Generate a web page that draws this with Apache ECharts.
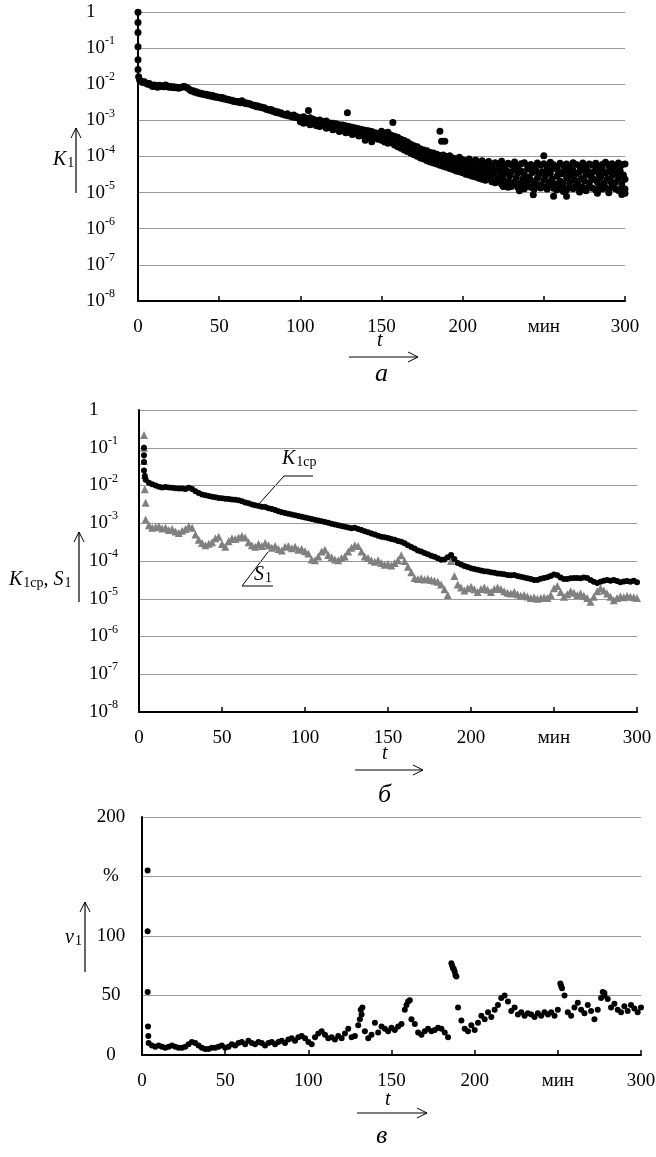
<!DOCTYPE html>
<html>
<head>
<meta charset="utf-8">
<title>K1, S1, v1</title>
<script src="https://cdn.jsdelivr.net/npm/echarts@6/dist/echarts.min.js"></script>
<style>
html, body { margin: 0; padding: 0; background: #fff; }
#chart { width: 656px; height: 1157px; }
</style>
</head>
<body>
<div id="chart"></div>
<script>
// x ticks of all three panels (the 250 tick carries the unit "мин")
const xTicks = [0, 50, 100, 150, 200, 250, 300]

// ---- panel а: K1 (values are log10 K1) ----
// burst at the very start, [t, log10 K1]
const k1Start = [[0, -0.01], [0, -0.29], [0, -0.57], [0, -0.96], [0, -1.32], [0, -1.59], [0.4, -1.79]]
// one point per minute, t = 1..300
const k1Main = [
  -1.88, -1.92, -1.95, -1.93, -1.97, -2.00, -1.98, -2.03, -2.06, -2.02,
  -2.05, -2.08, -2.03, -2.06, -2.04, -2.07, -2.02, -2.05, -2.08, -2.06,
  -2.09, -2.07, -2.10, -2.08, -2.11, -2.09, -2.08, -2.06, -2.07, -2.09,
  -2.12, -2.16, -2.19, -2.18, -2.22, -2.21, -2.25, -2.24, -2.27, -2.26,
  -2.29, -2.28, -2.31, -2.30, -2.33, -2.31, -2.35, -2.34, -2.37, -2.36,
  -2.39, -2.37, -2.41, -2.40, -2.43, -2.42, -2.45, -2.44, -2.48, -2.47,
  -2.49, -2.48, -2.51, -2.46, -2.50, -2.53, -2.52, -2.55, -2.54, -2.57,
  -2.59, -2.58, -2.62, -2.60, -2.64, -2.63, -2.66, -2.65, -2.69, -2.70,
  -2.72, -2.70, -2.75, -2.74, -2.78, -2.76, -2.80, -2.79, -2.83, -2.84,
  -2.86, -2.82, -2.88, -2.87, -2.91, -2.85, -2.92, -2.90, -2.94, -2.93,
  -2.96, -2.90, -2.98, -2.95, -2.99, -2.93, -3.02, -2.97, -3.03, -3.00,
  -3.05, -2.99, -3.06, -3.03, -3.08, -3.02, -3.10, -3.07, -3.12, -3.08,
  -3.14, -3.09, -3.16, -3.12, -3.18, -3.13, -3.20, -3.15, -3.22, -3.17,
  -3.24, -3.19, -3.26, -3.21, -3.28, -3.23, -3.30, -3.25, -3.32, -3.27,
  -3.35, -3.29, -3.37, -3.31, -3.39, -3.34, -3.42, -3.36, -3.44, -3.39,
  -3.47, -3.40, -3.53, -3.45, -3.58, -3.49, -3.55, -3.46, -3.62, -3.52,
  -3.66, -3.57, -3.70, -3.62, -3.75, -3.64, -3.78, -3.69, -3.82, -3.72,
  -3.85, -3.76, -3.90, -3.80, -3.93, -3.84, -3.97, -3.87, -4.00, -3.90,
  -4.02, -3.93, -4.06, -3.97, -4.10, -4.00, -4.13, -4.03, -4.16, -4.06,
  -4.19, -4.08, -4.22, -4.11, -4.25, -4.13, -4.28, -4.15, -4.30, -4.17,
  -4.33, -4.19, -4.37, -4.24, -4.41, -4.27, -4.45, -4.30, -4.36, -4.48,
  -4.31, -4.52, -4.38, -4.29, -4.55, -4.42, -4.34, -4.58, -4.45, -4.37,
  -4.61, -4.40, -4.50, -4.33, -4.64, -4.47, -4.39, -4.69, -4.53, -4.42,
  -4.72, -4.36, -4.58, -4.46, -4.75, -4.40, -4.62, -4.51, -4.70, -4.35,
  -4.57, -4.66, -4.44, -4.73, -4.38, -4.60, -4.49, -4.78, -4.42, -4.65,
  -4.53, -4.37, -4.71, -4.46, -4.62, -4.33, -4.76, -4.55, -4.41, -4.68,
  -4.48, -4.74, -4.36, -4.59, -4.44, -4.70, -4.52, -4.39, -4.65, -4.47,
  -4.77, -4.42, -4.61, -4.35, -4.68, -4.50, -4.40, -4.73, -4.56, -4.44,
  -4.64, -4.38, -4.71, -4.49, -4.58, -4.34, -4.75, -4.46, -4.62, -4.41,
  -4.69, -4.53, -4.37, -4.72, -4.48, -4.60, -4.39, -4.76, -4.51, -4.63
]
// lower side of the band, t = 100..148 every 2 min
const k1Side = [
  -3.04, -3.08, -3.06, -3.12, -3.10, -3.15, -3.17, -3.14, -3.22, -3.20,
  -3.26, -3.24, -3.31, -3.28, -3.34, -3.33, -3.39, -3.36, -3.43, -3.41,
  -3.47, -3.45, -3.50, -3.49, -3.52
]
// upper and lower edge of the widening band, t = 150..300 every 2 min
const k1Upper = [
  -3.30, -3.35, -3.33, -3.41, -3.44, -3.47, -3.52, -3.56, -3.60, -3.66,
  -3.70, -3.73, -3.79, -3.82, -3.84, -3.89, -3.90, -3.94, -3.97, -3.96,
  -4.00, -3.98, -4.04, -4.06, -4.02, -4.09, -4.12, -4.07, -4.14, -4.10,
  -4.16, -4.12, -4.20, -4.14, -4.24, -4.17, -4.21, -4.13, -4.26, -4.19,
  -4.23, -4.15, -4.28, -4.20, -4.17, -4.25, -4.22, -4.30, -4.18, -4.24,
  -4.20, -4.27, -4.16, -4.23, -4.29, -4.19, -4.25, -4.21, -4.28, -4.17,
  -4.22, -4.26, -4.18, -4.30, -4.21, -4.24, -4.19, -4.27, -4.22, -4.16,
  -4.25, -4.20, -4.28, -4.18, -4.23, -4.21
]
const k1Lower = [
  -3.55, -3.58, -3.63, -3.61, -3.68, -3.73, -3.77, -3.82, -3.86, -3.91,
  -3.95, -3.99, -4.04, -4.07, -4.12, -4.15, -4.18, -4.21, -4.24, -4.27,
  -4.30, -4.33, -4.36, -4.40, -4.42, -4.45, -4.49, -4.51, -4.55, -4.57,
  -4.60, -4.63, -4.66, -4.62, -4.70, -4.73, -4.68, -4.77, -4.74, -4.80,
  -4.83, -4.76, -4.86, -4.80, -4.89, -4.82, -4.85, -4.91, -4.79, -4.87,
  -4.84, -4.90, -4.78, -4.88, -4.93, -4.81, -4.86, -4.92, -4.83, -4.89,
  -4.80, -4.91, -4.85, -4.95, -4.82, -4.88, -4.93, -4.84, -4.90, -4.86,
  -4.92, -4.83, -4.89, -4.94, -4.85, -4.90
]
// stray points, [t, log10 K1]
const k1Outliers = [
  [105, -2.73], [129, -2.79], [140, -3.55], [144, -3.59], [152, -3.60], [157, -3.06],
  [186, -3.30], [187, -3.58], [189, -3.58], [225, -4.83], [228, -4.85], [235, -4.95],
  [243.5, -5.06], [250, -3.98], [256, -5.10], [262, -4.97], [264, -5.10], [272, -4.98],
  [276, -4.92], [283, -5.02], [290, -5.00], [298, -5.05], [300, -5.02]
]

// ---- panel б: K1ср and S1 (log10), t = 4..300 every 2 min ----
const k1cpStart = [[3, -1.00], [3, -1.20], [3, -1.38], [3, -1.60], [3.5, -1.75]]
const k1cp = [
  -1.85, -1.93, -1.97, -2.00, -2.03, -2.05, -2.04, -2.05, -2.06, -2.07,
  -2.08, -2.08, -2.09, -2.06, -2.09, -2.15, -2.20, -2.24, -2.26, -2.28,
  -2.30, -2.31, -2.33, -2.34, -2.35, -2.36, -2.37, -2.38, -2.39, -2.42,
  -2.45, -2.47, -2.50, -2.52, -2.54, -2.56, -2.57, -2.60, -2.62, -2.65,
  -2.68, -2.71, -2.73, -2.75, -2.77, -2.79, -2.81, -2.83, -2.85, -2.87,
  -2.89, -2.91, -2.93, -2.95, -2.97, -2.99, -3.01, -3.03, -3.05, -3.07,
  -3.09, -3.11, -3.13, -3.12, -3.15, -3.18, -3.21, -3.24, -3.27, -3.30,
  -3.33, -3.36, -3.37, -3.39, -3.42, -3.44, -3.47, -3.49, -3.53, -3.58,
  -3.63, -3.67, -3.72, -3.75, -3.79, -3.82, -3.86, -3.89, -3.93, -3.97,
  -3.96, -3.90, -3.84, -3.95, -4.05, -4.09, -4.13, -4.16, -4.19, -4.21,
  -4.23, -4.25, -4.27, -4.28, -4.30, -4.31, -4.33, -4.34, -4.35, -4.37,
  -4.38, -4.37, -4.40, -4.42, -4.44, -4.46, -4.48, -4.50, -4.50, -4.47,
  -4.45, -4.43, -4.40, -4.36, -4.38, -4.44, -4.48, -4.48, -4.46, -4.45,
  -4.45, -4.46, -4.44, -4.45, -4.50, -4.55, -4.58, -4.55, -4.52, -4.50,
  -4.52, -4.50, -4.53, -4.56, -4.54, -4.53, -4.55, -4.52, -4.56
]
const s1Start = [[3, -0.66], [3, -1.00], [3, -1.35], [3.5, -1.72], [3.5, -2.10], [4, -2.46]]
const s1 = [
  -2.90, -3.05, -3.12, -3.10, -3.08, -3.14, -3.12, -3.18, -3.15, -3.22,
  -3.26, -3.20, -3.15, -3.08, -3.12, -3.30, -3.44, -3.52, -3.58, -3.54,
  -3.50, -3.40, -3.36, -3.55, -3.62, -3.48, -3.40, -3.42, -3.38, -3.34,
  -3.38, -3.50, -3.58, -3.62, -3.55, -3.60, -3.52, -3.58, -3.65, -3.60,
  -3.68, -3.72, -3.62, -3.60, -3.66, -3.62, -3.70, -3.68, -3.74, -3.80,
  -3.96, -3.98, -3.88, -3.75, -3.70, -3.84, -3.90, -3.96, -3.98, -3.92,
  -3.88, -3.75, -3.65, -3.58, -3.60, -3.75, -3.88, -3.92, -3.98, -4.02,
  -3.98, -4.05, -4.10, -4.08, -4.12, -4.05, -3.98, -3.85, -4.00, -4.15,
  -4.30, -4.45, -4.48, -4.46, -4.49, -4.47, -4.50, -4.52, -4.55, -4.62,
  -4.75, -4.90, -4.00, -4.40, -4.62, -4.70, -4.78, -4.72, -4.68, -4.75,
  -4.82, -4.74, -4.70, -4.76, -4.82, -4.74, -4.70, -4.74, -4.80, -4.84,
  -4.86, -4.82, -4.88, -4.92, -4.90, -4.94, -4.98, -4.96, -5.00, -4.98,
  -4.96, -4.98, -4.90, -4.72, -4.66, -4.82, -4.95, -4.88, -4.80, -4.84,
  -4.90, -4.86, -4.92, -4.98, -5.08, -4.95, -4.80, -4.72, -4.78, -4.86,
  -4.95, -5.04, -4.98, -4.94, -4.96, -4.93, -4.95, -4.96, -4.98
]

// ---- panel в: v1, %, t = 4..300 every 2 min ----
const v1Start = [[3.4, 155], [3.4, 104], [3.4, 53], [3.6, 24], [3.8, 16]]
const v1 = [
  10, 8, 7, 8, 7, 6, 7, 8, 7, 6,
  6, 7, 9, 11, 10, 8, 6, 5, 5, 6,
  6, 7, 8, 6, 7, 9, 8, 10, 11, 9,
  12, 10, 9, 11, 10, 8, 10, 11, 9, 11,
  12, 10, 13, 14, 12, 15, 16, 14, 11, 9,
  15, 18, 20, 17, 14, 15, 13, 16, 14, 18,
  22, 15, 16, 25, 34, 20, 14, 17, 27, 19,
  24, 22, 20, 23, 21, 24, 26, 38, 45, 30,
  26, 19, 17, 20, 22, 20, 21, 23, 22, 19,
  15, 77, 70, 40, 29, 22, 20, 25, 21, 27,
  33, 30, 36, 32, 38, 42, 48, 50, 45, 37,
  40, 34, 36, 33, 35, 34, 32, 35, 33, 36,
  34, 36, 33, 38, 58, 50, 36, 33, 40, 44,
  38, 35, 42, 37, 30, 38, 48, 52, 47, 40,
  43, 38, 36, 41, 37, 42, 39, 36, 40
]
const v1Extra = [
  [131, 30], [131.5, 38], [132.5, 40], [159, 42], [161, 46], [186.5, 75], [187, 73],
  [187.5, 72], [188.5, 67], [189, 66], [251.5, 60], [252.5, 56], [277, 53], [278, 50]
]

const FONT = 'Liberation Serif'

// [t0 + step*i, value] for values taken at a regular step
function pairs(t0, step, arr) {
  return arr.map((v, i) => [t0 + step * i, v])
}
function fromLog(list) {
  return list.map(p => [p[0], Math.pow(10, p[1])])
}

const myChart = echarts.init(document.getElementById('chart'), null, { renderer: 'canvas' })

const grids = [
  { left: 138, top: 12, width: 487, height: 289 },
  { left: 139, top: 410, width: 498, height: 302 },
  { left: 142, top: 817, width: 499, height: 238 }
]

function xAxisFor(i) {
  return {
    gridIndex: i,
    type: 'value',
    min: 0,
    max: 300,
    interval: 50,
    axisLine: { lineStyle: { color: '#000', width: 2 } },
    axisTick: { inside: true, length: 5, lineStyle: { color: '#000', width: 1.5 } },
    splitLine: { show: false },
    axisLabel: {
      margin: 17,
      color: '#000',
      fontFamily: FONT,
      fontSize: 19,
      formatter: v => (v === 250 ? 'мин' : String(v))
    }
  }
}

const supRich = {
  b: { fontFamily: FONT, fontSize: 19, color: '#000', lineHeight: 26 },
  s: { fontFamily: FONT, fontSize: 12, color: '#000', lineHeight: 12, verticalAlign: 'top' }
}

function logYAxis(i, margin) {
  return {
    gridIndex: i,
    type: 'log',
    logBase: 10,
    min: 1e-8,
    max: 1,
    axisLine: { show: true, lineStyle: { color: '#000', width: 2 } },
    axisTick: { show: false },
    splitLine: { lineStyle: { color: '#9a9a9a', width: 1.2 } },
    axisLabel: {
      align: 'left',
      margin,
      formatter: v => {
        const e = Math.round(Math.log10(v))
        return e === 0 ? '{b|1}' : '{b|10}{s|' + e + '}'
      },
      rich: supRich
    }
  }
}

const sub = {
  i: { fontFamily: FONT, fontSize: 20, fontStyle: 'italic', color: '#000' },
  n: { fontFamily: FONT, fontSize: 20, color: '#000' },
  d: { fontFamily: FONT, fontSize: 14, color: '#000', verticalAlign: 'bottom', padding: [0, 0, 0, 1] }
}

function label(left, top, text, size) {
  return {
    type: 'text',
    left,
    top,
    style: size
      ? { text, fontFamily: FONT, fontSize: size, fontStyle: 'italic', fill: '#000' }
      : { text, rich: sub, fill: '#000' }
  }
}
function vArrow(x, yBottom, yTop) {
  return [
    { type: 'line', shape: { x1: x, y1: yBottom, x2: x, y2: yTop }, style: { stroke: '#000', lineWidth: 1.2 } },
    { type: 'polyline', shape: { points: [[x - 5, yTop + 10], [x, yTop], [x + 5, yTop + 10]] }, style: { stroke: '#000', fill: null, lineWidth: 1 } }
  ]
}
function hArrow(x1, x2, y) {
  return [
    { type: 'line', shape: { x1, y1: y, x2, y2: y }, style: { stroke: '#000', lineWidth: 1.2 } },
    { type: 'polyline', shape: { points: [[x2 - 10, y - 5], [x2, y], [x2 - 10, y + 5]] }, style: { stroke: '#000', fill: null, lineWidth: 1 } }
  ]
}
function seg(x1, y1, x2, y2) {
  return { type: 'line', shape: { x1, y1, x2, y2 }, style: { stroke: '#000', lineWidth: 1 } }
}

const graphic = [
  // panel а
  label(53, 150, '{i|K}{d|1}'),
  ...vArrow(76, 193, 128),
  label(377, 331, 't', 20),
  ...hArrow(349, 418, 357),
  label(375, 361, 'а', 26),
  // panel б
  label(9, 570, '{i|K}{d|1ср}{n|, }{i|S}{d|1}'),
  ...vArrow(79, 602, 532),
  label(282, 449, '{i|K}{d|1ср}'),
  seg(284, 476, 313, 476),
  seg(284, 476, 258, 505),
  label(254, 565, '{i|S}{d|1}'),
  seg(242, 586, 273, 586),
  seg(242, 586, 268, 552),
  label(382, 744, 't', 20),
  ...hArrow(355, 423, 770),
  label(378, 782, 'б', 26),
  // panel в
  label(65, 928, '{i|v}{d|1}'),
  ...vArrow(85, 972, 902),
  label(385, 1090, 't', 20),
  ...hArrow(357, 427, 1113),
  label(376, 1123, 'в', 26)
]

const k1Points = fromLog([
  ...k1Start,
  ...pairs(1, 1, k1Main),
  ...pairs(100, 2, k1Side),
  ...pairs(150, 2, k1Upper),
  ...pairs(150, 2, k1Lower),
  ...k1Outliers
])

const option = {
  animation: false,
  backgroundColor: '#fff',
  grid: grids.map(g => Object.assign({ outerBoundsMode: 'none' }, g)),
  xAxis: [xAxisFor(0), xAxisFor(1), xAxisFor(2)],
  yAxis: [
    logYAxis(0, 52),
    logYAxis(1, 50),
    {
      gridIndex: 2,
      type: 'value',
      min: 0,
      max: 200,
      interval: 50,
      axisLine: { show: true, lineStyle: { color: '#000', width: 2 } },
      axisTick: { show: false },
      splitLine: { lineStyle: { color: '#9a9a9a', width: 1.2 } },
      axisLabel: {
        align: 'center',
        margin: 31,
        color: '#000',
        fontFamily: FONT,
        fontSize: 19,
        formatter: v => (v === 150 ? '%' : String(v))
      }
    }
  ],
  graphic,
  series: [
    {
      name: 'K1',
      type: 'scatter',
      xAxisIndex: 0,
      yAxisIndex: 0,
      symbolSize: 7,
      itemStyle: { color: '#000', opacity: 1 },
      data: k1Points
    },
    {
      name: 'S1',
      type: 'scatter',
      xAxisIndex: 1,
      yAxisIndex: 1,
      symbol: 'triangle',
      symbolSize: 8,
      itemStyle: { color: '#808080', opacity: 1 },
      data: fromLog([...s1Start, ...pairs(4, 2, s1)])
    },
    {
      name: 'K1ср',
      type: 'scatter',
      xAxisIndex: 1,
      yAxisIndex: 1,
      symbolSize: 6,
      itemStyle: { color: '#000', opacity: 1 },
      data: fromLog([...k1cpStart, ...pairs(4, 2, k1cp)])
    },
    {
      name: 'v1',
      type: 'scatter',
      xAxisIndex: 2,
      yAxisIndex: 2,
      symbolSize: 6,
      itemStyle: { color: '#000', opacity: 1 },
      data: [...v1Start, ...pairs(4, 2, v1), ...v1Extra]
    }
  ]
}

myChart.setOption(option)
</script>
</body>
</html>
